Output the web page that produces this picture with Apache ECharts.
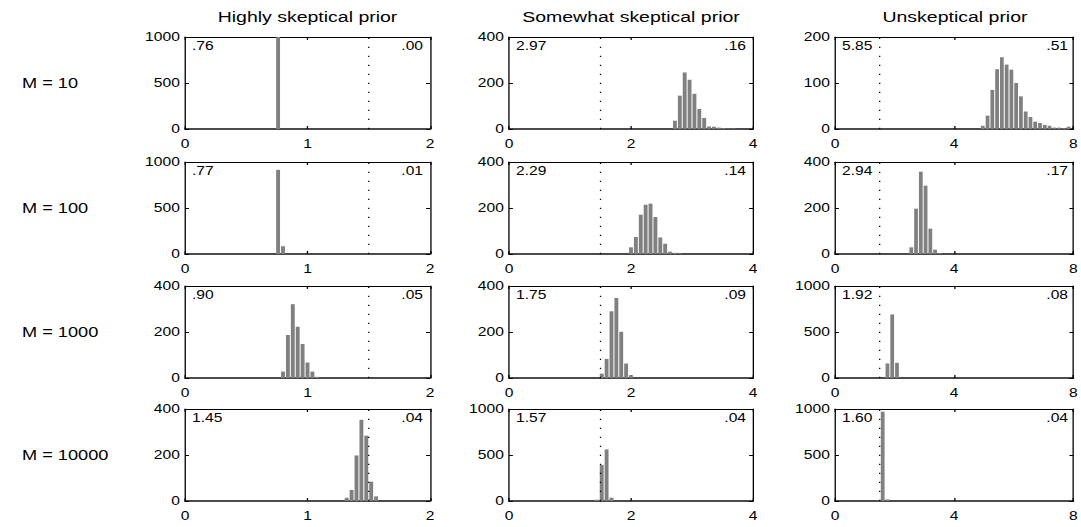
<!DOCTYPE html>
<html><head><meta charset="utf-8">
<script src="https://cdn.jsdelivr.net/npm/echarts@6/dist/echarts.min.js"></script>
<style>
html,body{margin:0;padding:0;background:#fff;overflow:hidden}
#wrap{width:1081px;height:527px;overflow:hidden;position:relative}
#chart{height:527px;transform-origin:0 0;position:absolute;left:0;top:0}
</style></head><body><div id="wrap"><div id="chart"></div></div>
<script>
// ---- data ----
const columnTitles = ['Highly skeptical prior', 'Somewhat skeptical prior', 'Unskeptical prior'];
const rowLabels = ['M = 10', 'M = 100', 'M = 1000', 'M = 10000'];
const xMax = [2, 4, 8];
const xInterval = [1, 2, 4];
const binWidth = [0.04, 0.08, 0.16];
const yMax = [[1000, 400, 200], [1000, 400, 400], [400, 400, 1000], [400, 1000, 1000]];
const meanLabels = [['.76', '2.97', '5.85'], ['.77', '2.29', '2.94'], ['.90', '1.75', '1.92'], ['1.45', '1.57', '1.60']];
const probLabels = [['.00', '.16', '.51'], ['.01', '.14', '.17'], ['.05', '.09', '.08'], ['.04', '.04', '.04']];
const threshold = 1.5;

const r1c1Centers = [0.76];
const r1c1Counts = [1000];
const r2c1Centers = [0.76, 0.80];
const r2c1Counts = [915, 85];
const r3c1Centers = [0.80, 0.84, 0.88, 0.92, 0.96, 1.00, 1.04, 1.08];
const r3c1Counts = [28, 187, 321, 223, 148, 67, 28, 5];
const r4c1Centers = [1.32, 1.36, 1.40, 1.44, 1.48, 1.52, 1.56];
const r4c1Counts = [14, 48, 198, 353, 284, 84, 20];

const r1c2Centers = [2.72, 2.80, 2.88, 2.96, 3.04, 3.12, 3.20, 3.28, 3.36, 3.44, 3.52, 3.60, 3.68];
const r1c2Counts = [36, 145, 246, 214, 153, 87, 48, 11, 10, 6, 4, 2, 2];
const r2c2Centers = [2.00, 2.08, 2.16, 2.24, 2.32, 2.40, 2.48, 2.56, 2.64, 2.72, 2.80];
const r2c2Counts = [29, 74, 171, 214, 219, 161, 72, 45, 10, 5, 3];
const r3c2Centers = [1.52, 1.60, 1.68, 1.76, 1.84, 1.92, 2.00];
const r3c2Counts = [19, 83, 290, 348, 201, 63, 12];
const r4c2Centers = [1.44, 1.52, 1.60, 1.68];
const r4c2Counts = [14, 393, 561, 36];

const r1c3Centers = [4.96, 5.12, 5.28, 5.44, 5.60, 5.76, 5.92, 6.08, 6.24, 6.40, 6.56, 6.72, 6.88, 7.04, 7.20, 7.36, 7.52, 7.68, 7.84];
const r1c3Counts = [7, 29, 85, 130, 156, 140, 129, 100, 71, 38, 26, 16, 13, 9, 7, 3, 3, 2, 5];
const r2c3Centers = [2.56, 2.72, 2.88, 3.04, 3.20, 3.36, 3.52];
const r2c3Counts = [29, 197, 358, 297, 110, 19, 3];
const r3c3Centers = [1.76, 1.92, 2.08];
const r3c3Counts = [158, 691, 165];
const r4c3Centers = [1.44, 1.60, 1.76];
const r4c3Counts = [5, 971, 18];

const panelCenters = [[r1c1Centers, r1c2Centers, r1c3Centers], [r2c1Centers, r2c2Centers, r2c3Centers],
  [r3c1Centers, r3c2Centers, r3c3Centers], [r4c1Centers, r4c2Centers, r4c3Centers]];
const panelCounts = [[r1c1Counts, r1c2Counts, r1c3Counts], [r2c1Counts, r2c2Counts, r2c3Counts],
  [r3c1Counts, r3c2Counts, r3c3Counts], [r4c1Counts, r4c2Counts, r4c3Counts]];

// ---- layout (real pixels) ----
const S = 1.3; // horizontal stretch of the reference
const colLeft = [185, 509, 835];
const colRight = [430, 753, 1075];
const rowTop = [37, 162, 286, 409];
const plotH = 92;
const FONT = 'Liberation Sans, Arial, sans-serif';

const el = document.getElementById('chart');
el.style.width = (1081 / S) + 'px';
el.style.transform = 'scaleX(' + S + ')';
const chart = echarts.init(el, null, { renderer: 'svg' });

const plain = v => String(v);
const grid = [], xAxis = [], yAxis = [], series = [], graphic = [];
for (let r = 0; r < 4; r++) {
  for (let c = 0; c < 3; c++) {
    const idx = r * 3 + c;
    grid.push({ left: colLeft[c] / S, top: rowTop[r], width: (colRight[c] - colLeft[c]) / S, height: plotH });
    const xBase = {
      gridIndex: idx, type: 'value', min: 0, max: xMax[c], interval: xInterval[c],
      axisLine: { show: true, onZero: false, lineStyle: { color: '#000', width: 1 } },
      axisTick: { show: true, inside: true, length: 3, lineStyle: { color: '#000' } },
      splitLine: { show: false }
    };
    xAxis.push(Object.assign({}, xBase, { position: 'bottom',
      axisLine: { show: true, onZero: false, lineStyle: { color: '#111', width: 1.6 } },
      axisLabel: { show: true, fontSize: 12, color: '#000', fontFamily: FONT, margin: 9, formatter: plain } }));
    xAxis.push(Object.assign({}, xBase, { position: 'top', axisLabel: { show: false } }));
    const yBase = {
      gridIndex: idx, type: 'value', min: 0, max: yMax[r][c], interval: yMax[r][c] / 2,
      axisLine: { show: true, onZero: false, lineStyle: { color: '#000', width: 1 } },
      axisTick: { show: true, inside: true, length: 3, lineStyle: { color: '#000' } },
      splitLine: { show: false }
    };
    yAxis.push(Object.assign({}, yBase, { position: 'left',
      axisLabel: { show: true, fontSize: 12, color: '#000', fontFamily: FONT, margin: 4, formatter: plain } }));
    yAxis.push(Object.assign({}, yBase, { position: 'right', axisLabel: { show: false } }));

    const bw = binWidth[c];
    const data = panelCenters[r][c].map((x, i) => [x - bw / 2, x + bw / 2, panelCounts[r][c][i]]);
    series.push({
      type: 'custom', xAxisIndex: idx * 2, yAxisIndex: idx * 2, data: data,
      encode: { x: [0, 1], y: 2 }, z: 2,
      renderItem: function (params, api) {
        const p0 = api.coord([api.value(0), api.value(2)]);
        const p1 = api.coord([api.value(1), 0]);
        const gap = 1 / S;
        return { type: 'rect', shape: { x: p0[0] + gap / 2, y: p0[1], width: Math.max(0.3, p1[0] - p0[0] - gap), height: p1[1] - p0[1] },
          style: { fill: '#808080' } };
      }
    });
    series.push({
      type: 'line', xAxisIndex: idx * 2, yAxisIndex: idx * 2, z: 3,
      data: [[threshold, 0], [threshold, yMax[r][c]]], symbol: 'none', silent: true,
      lineStyle: { color: '#000', width: 1, type: [1.3, 7.7] }
    });
    graphic.push({ type: 'text', x: (colLeft[c] + 7) / S, y: rowTop[r] + 3,
      style: { text: meanLabels[r][c], font: '12px ' + FONT, fill: '#000', textAlign: 'left', textVerticalAlign: 'top' } });
    graphic.push({ type: 'text', x: (colRight[c] - 7) / S, y: rowTop[r] + 3,
      style: { text: probLabels[r][c], font: '12px ' + FONT, fill: '#000', textAlign: 'right', textVerticalAlign: 'top' } });
  }
}
for (let c = 0; c < 3; c++) {
  graphic.push({ type: 'text', x: (colLeft[c] + colRight[c]) / 2 / S, y: 9,
    style: { text: columnTitles[c], font: '15px ' + FONT, fill: '#000', textAlign: 'center', textVerticalAlign: 'top' } });
}
for (let r = 0; r < 4; r++) {
  graphic.push({ type: 'text', x: 22 / S, y: rowTop[r] + plotH / 2,
    style: { text: rowLabels[r], font: '14px ' + FONT, fill: '#000', textAlign: 'left', textVerticalAlign: 'middle' } });
}

chart.setOption({ animation: false, backgroundColor: '#fff', grid, xAxis, yAxis, series, graphic });
</script></body></html>
